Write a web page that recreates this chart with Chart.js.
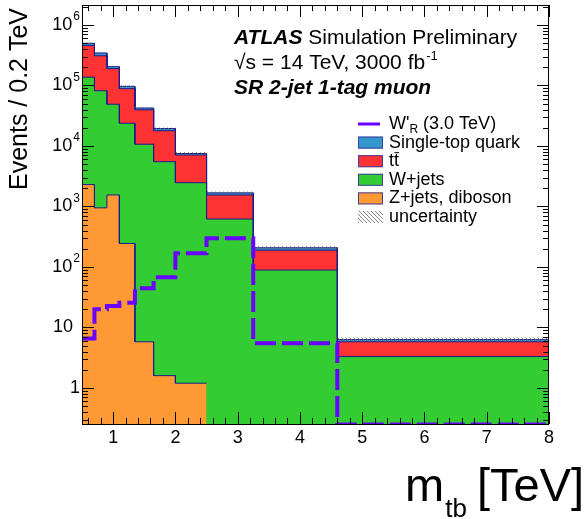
<!DOCTYPE html>
<html>
<head>
<meta charset="utf-8">
<script src="https://cdn.jsdelivr.net/npm/chart.js@4.4.0/dist/chart.umd.min.js"></script>
<style>
  html, body { margin: 0; padding: 0; background: #fff; }
  canvas { display: block; }
</style>
</head>
<body>
<canvas id="grafico" width="584" height="519"></canvas>
<script>
// bordes de los bins en TeV
const bordes = [0.5, 0.7, 0.9, 1.1, 1.35, 1.65, 2.0, 2.5, 3.25, 4.6, 8.0];

// contribuciones (eventos por bin)
const zjets     = [2300, 950, 1550, 245, 5.8, 1.6, 1.2, 0, 0, 0];
const wjets     = [135000, 81000, 47500, 23500, 10700, 5500, 2470, 620, 89, 3.3];
const ttbar     = [323000, 228000, 141000, 65000, 29000, 12400, 4630, 930, 101, 2.5];
const singletop = [38000, 35000, 15000, 8000, 2800, 1500, 400, 130, 18, 0.5];
const wprime    = [6.6, 20, 22.6, 25.7, 44.5, 67.6, 168, 298, 5.5, 0.25];
const incertRel = [0.02, 0.02, 0.02, 0.03, 0.03, 0.04, 0.05, 0.05, 0.06, 0.08];

const xTicks = [1, 2, 3, 4, 5, 6, 7, 8];
const yDecadas = [0, 1, 2, 3, 4, 5, 6];

const FUENTE = '"Liberation Sans", Arial, sans-serif';
const NAVY = '#1b1b8a';
const VIOLETA = '#6a00ff';

function acumular(...series) {
  return series[0].map((_, i) => series.reduce((s, a) => s + a[i], 0));
}

// convierte valores por bin en puntos de escalon (esquinas)
function escalones(valores) {
  const puntos = [];
  valores.forEach((v, i) => {
    if (v > 0) {
      puntos.push({ x: bordes[i], y: v });
      puntos.push({ x: bordes[i + 1], y: v });
    }
  });
  return puntos;
}

const capaZ = zjets;
const capaW = acumular(zjets, wjets);
const capaTT = acumular(zjets, wjets, ttbar);
const total = acumular(zjets, wjets, ttbar, singletop);
const totalArriba = total.map((v, i) => v * (1 + incertRel[i]));
const totalAbajo = total.map((v, i) => v * (1 - incertRel[i]));

function crearRayado(color) {
  const c = document.createElement('canvas');
  c.width = 4; c.height = 4;
  const g = c.getContext('2d');
  g.strokeStyle = color;
  g.lineWidth = 0.8;
  g.beginPath();
  g.moveTo(0, 0); g.lineTo(4, 4);
  g.moveTo(-1, 3); g.lineTo(1, 5);
  g.moveTo(3, -1); g.lineTo(5, 1);
  g.stroke();
  return document.getElementById('grafico').getContext('2d').createPattern(c, 'repeat');
}
const rayado = crearRayado('#666');

function linea(ctx, x1, y1, x2, y2) {
  ctx.beginPath();
  ctx.moveTo(x1, y1);
  ctx.lineTo(x2, y2);
  ctx.stroke();
}

const decoracion = {
  id: 'decoracion',
  beforeDraw(chart) {
    const ctx = chart.ctx;
    ctx.save();
    ctx.fillStyle = '#fff';
    ctx.fillRect(0, 0, chart.width, chart.height);
    ctx.restore();
  },
  afterDraw(chart) {
    const { ctx, chartArea: a, scales: { x, y } } = chart;
    ctx.save();

    // marco
    ctx.strokeStyle = '#000';
    ctx.lineWidth = 1;
    ctx.strokeRect(a.left + 0.5, a.top + 0.5, a.right - a.left - 1, a.bottom - a.top);

    // ticks eje x (abajo y arriba)
    for (let k = 3; k <= 40; k++) {
      const v = k * 0.2;
      const px = Math.round(x.getPixelForValue(v)) + 0.5;
      const largo = k % 5 === 0 ? 12 : 6;
      linea(ctx, px, a.bottom, px, a.bottom - largo);
      linea(ctx, px, a.top, px, a.top + largo);
    }
    // ticks eje y (izquierda y derecha)
    for (let e = -1; e <= 6; e++) {
      for (let m = 1; m <= 9; m++) {
        const v = m * Math.pow(10, e);
        if (v < y.min || v > y.max) continue;
        const py = Math.round(y.getPixelForValue(v)) + 0.5;
        const largo = m === 1 ? 12 : 6;
        linea(ctx, a.left, py, a.left + largo, py);
        linea(ctx, a.right, py, a.right - largo, py);
      }
    }

    // etiquetas eje x
    ctx.fillStyle = '#000';
    ctx.font = '18px ' + FUENTE;
    ctx.textAlign = 'center';
    ctx.textBaseline = 'alphabetic';
    xTicks.forEach(t => ctx.fillText(String(t), x.getPixelForValue(t), 443));

    // etiquetas eje y
    yDecadas.forEach(d => {
      const py = y.getPixelForValue(Math.pow(10, d));
      ctx.textAlign = 'right';
      ctx.textBaseline = 'middle';
      if (d === 0) {
        ctx.font = '18px ' + FUENTE;
        ctx.fillText('1', 80, py);
      } else if (d === 1) {
        ctx.font = '18px ' + FUENTE;
        ctx.fillText('10', 73, py);
      } else {
        ctx.font = '12px ' + FUENTE;
        ctx.fillText(String(d), 80, py - 8);
        const w = ctx.measureText(String(d)).width;
        ctx.font = '18px ' + FUENTE;
        ctx.fillText('10', 80 - w - 1, py);
      }
    });

    // titulo eje y
    ctx.save();
    ctx.translate(27, 8);
    ctx.rotate(-Math.PI / 2);
    ctx.font = '25px ' + FUENTE;
    ctx.textAlign = 'right';
    ctx.textBaseline = 'alphabetic';
    ctx.fillText('Events / 0.2 TeV', 0, 0);
    ctx.restore();

    // titulo eje x
    ctx.textAlign = 'left';
    ctx.textBaseline = 'alphabetic';
    ctx.font = '47px ' + FUENTE;
    ctx.fillText('m', 405, 501);
    const anchoM = ctx.measureText('m').width;
    ctx.font = '26px ' + FUENTE;
    ctx.fillText('tb', 405 + anchoM + 1, 517);
    ctx.font = '47px ' + FUENTE;
    ctx.fillText('[TeV]', 477, 501);

    // textos ATLAS
    ctx.textBaseline = 'middle';
    ctx.font = 'italic bold 21px ' + FUENTE;
    ctx.fillText('ATLAS', 234, 38);
    const anchoAtlas = ctx.measureText('ATLAS ').width;
    ctx.font = '21px ' + FUENTE;
    ctx.fillText('Simulation Preliminary', 234 + anchoAtlas, 38);
    const linea2 = '\u221As = 14 TeV, 3000 fb';
    ctx.fillText(linea2, 234, 63);
    const ancho2 = ctx.measureText(linea2).width;
    ctx.font = '13px ' + FUENTE;
    ctx.fillText('-1', 234 + ancho2 + 1, 56);
    ctx.font = 'italic bold 21px ' + FUENTE;
    ctx.fillText('SR 2-jet 1-tag muon', 234, 88);

    // leyenda
    const lx = 358, tx = 389, y0 = 124, paso = 18.6;
    const entradas = [
      { tipo: 'linea', texto: "W'", sub: 'R', resto: ' (3.0 TeV)' },
      { tipo: 'caja', color: '#3399cc', texto: 'Single-top quark' },
      { tipo: 'caja', color: '#ff3333', texto: 'tt' },
      { tipo: 'caja', color: '#33cc33', texto: 'W+jets' },
      { tipo: 'caja', color: '#ff9933', texto: 'Z+jets, diboson' },
      { tipo: 'rayado', texto: 'uncertainty' }
    ];
    entradas.forEach((en, i) => {
      const cy = y0 + i * paso;
      if (en.tipo === 'linea') {
        ctx.strokeStyle = VIOLETA;
        ctx.lineWidth = 3;
        linea(ctx, lx, cy, lx + 22, cy);
      } else if (en.tipo === 'caja') {
        ctx.fillStyle = en.color;
        ctx.fillRect(lx, cy - 6, 25, 12);
        ctx.strokeStyle = '#4040a0';
        ctx.lineWidth = 1;
        ctx.strokeRect(lx + 0.5, cy - 5.5, 24, 11);
      } else {
        ctx.fillStyle = rayado;
        ctx.fillRect(lx, cy - 6, 25, 12);
      }
      ctx.fillStyle = '#000';
      ctx.font = '18px ' + FUENTE;
      ctx.textAlign = 'left';
      ctx.textBaseline = 'middle';
      if (en.sub) {
        ctx.fillText(en.texto, tx, cy);
        const w1 = ctx.measureText(en.texto).width;
        ctx.font = '12px ' + FUENTE;
        ctx.fillText(en.sub, tx + w1, cy + 6);
        const w2 = ctx.measureText(en.sub).width;
        ctx.font = '18px ' + FUENTE;
        ctx.fillText(en.resto, tx + w1 + w2, cy);
      } else if (en.texto === 'tt') {
        // t t-barra
        ctx.fillText('tt', tx, cy);
        const wt = ctx.measureText('t').width;
        ctx.lineWidth = 1;
        ctx.strokeStyle = '#000';
        linea(ctx, tx + wt + 0.5, cy - 8.5, tx + 2 * wt, cy - 8.5);
      } else {
        ctx.fillText(en.texto, tx, cy);
      }
    });

    ctx.restore();
  }
};

const comunes = { pointRadius: 0, pointHoverRadius: 0, tension: 0 };

var ctx = document.getElementById('grafico').getContext('2d');
var grafico = new Chart(ctx, {
  type: 'line',
  data: {
    datasets: [
      {
        label: "W'R (3.0 TeV)",
        data: escalones(wprime),
        borderColor: VIOLETA,
        borderWidth: 4,
        borderDash: [21, 6],
        fill: false,
        ...comunes
      },
      {
        label: 'uncertainty',
        data: escalones(totalArriba),
        borderWidth: 0,
        borderColor: 'rgba(0,0,0,0)',
        backgroundColor: rayado,
        fill: '+1',
        ...comunes
      },
      {
        label: 'uncertainty low',
        data: escalones(totalAbajo),
        borderWidth: 0,
        borderColor: 'rgba(0,0,0,0)',
        fill: false,
        ...comunes
      },
      {
        label: 'Z+jets, diboson',
        data: escalones(capaZ),
        borderColor: NAVY,
        borderWidth: 1,
        backgroundColor: '#ff9933',
        fill: 'start',
        ...comunes
      },
      {
        label: 'W+jets',
        data: escalones(capaW),
        borderColor: NAVY,
        borderWidth: 1,
        backgroundColor: '#33cc33',
        fill: 'start',
        ...comunes
      },
      {
        label: 'tt',
        data: escalones(capaTT),
        borderColor: NAVY,
        borderWidth: 1,
        backgroundColor: '#ff3333',
        fill: 'start',
        ...comunes
      },
      {
        label: 'Single-top quark',
        data: escalones(total),
        borderColor: NAVY,
        borderWidth: 1,
        backgroundColor: '#3399cc',
        fill: 'start',
        ...comunes
      }
    ]
  },
  options: {
    responsive: false,
    animation: false,
    devicePixelRatio: 1,
    layout: { padding: { left: 82, top: 5, right: 35, bottom: 95 } },
    scales: {
      x: { type: 'linear', min: 0.5, max: 8, display: false },
      y: { type: 'logarithmic', min: 0.254, max: 2.14e6, display: false }
    },
    plugins: {
      legend: { display: false },
      tooltip: { enabled: false }
    }
  },
  plugins: [decoracion]
});
</script>
</body>
</html>
